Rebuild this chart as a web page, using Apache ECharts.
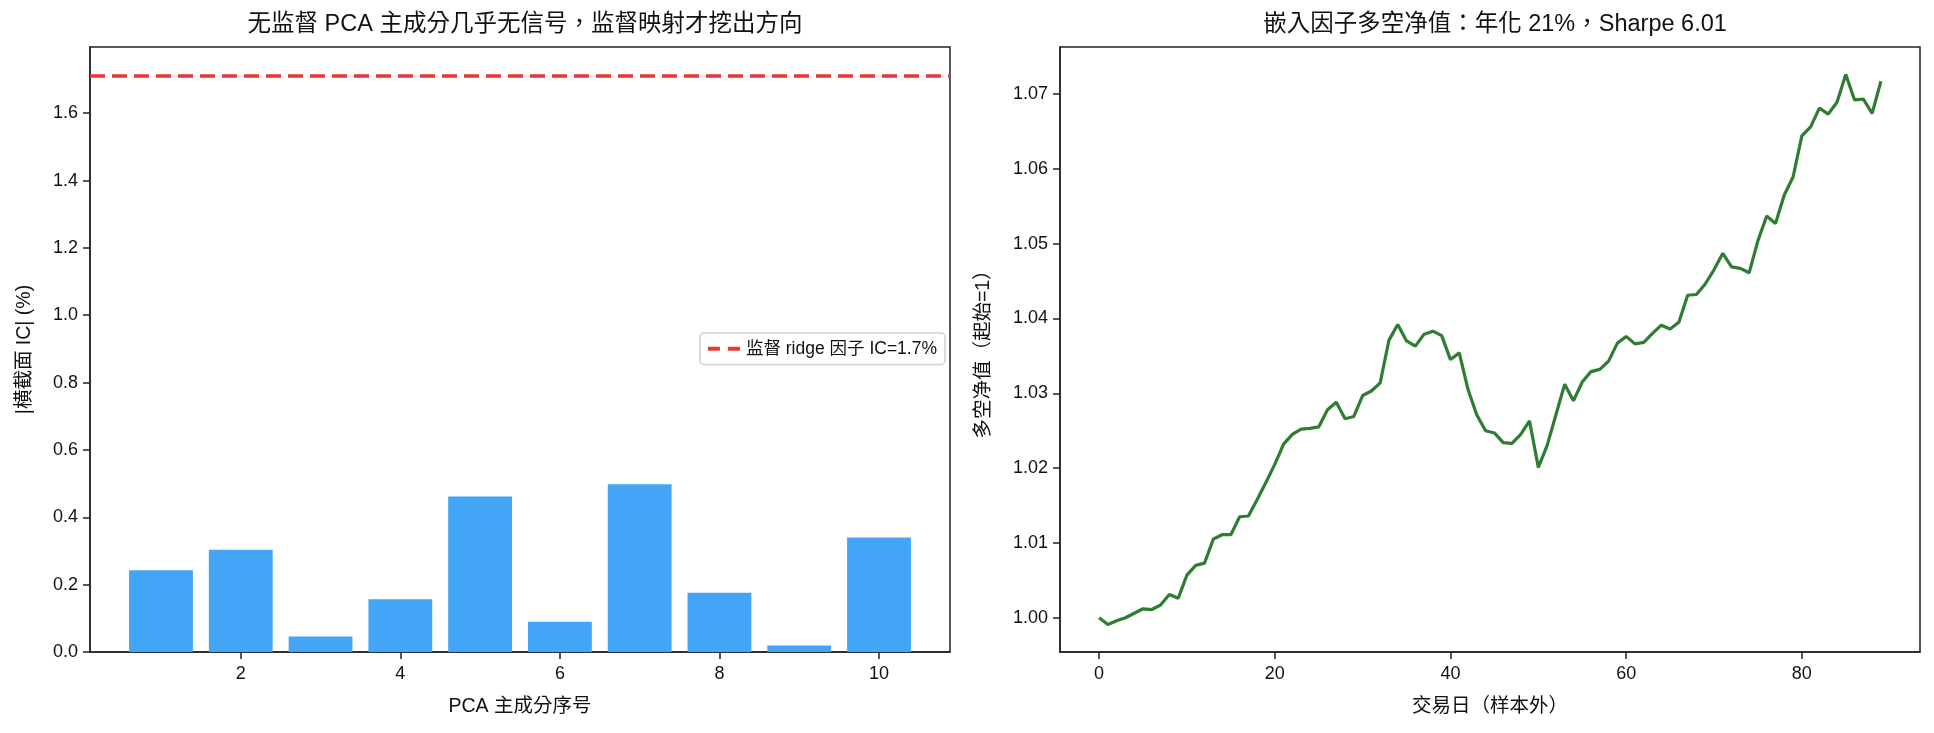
<!DOCTYPE html>
<html>
<head>
<meta charset="utf-8">
<script src="https://cdn.jsdelivr.net/npm/echarts@6/dist/echarts.min.js"></script>
<style>
  html, body { margin: 0; padding: 0; background: #fff; }
  #main { width: 1934px; height: 733px; }
</style>
</head>
<body>
<div id="main"></div>
<script>
// PCA 主成分序号
var components = [1, 2, 3, 4, 5, 6, 7, 8, 9, 10];
// 各主成分 |IC| (%)
var pcaIC = [0.243, 0.304, 0.046, 0.157, 0.462, 0.090, 0.498, 0.176, 0.019, 0.340];
// 监督 ridge 因子 IC
var ridgeIC = 1.711;
var pcaTicks = [2, 4, 6, 8, 10];
var icTicks = [0, 0.2, 0.4, 0.6, 0.8, 1.0, 1.2, 1.4, 1.6];

// 多空净值（样本外）
var netValue = [
  1.0000, 0.9991, 0.9996, 1.0000, 1.0006, 1.0012, 1.0011, 1.0017, 1.0031, 1.0026,
  1.0057, 1.0070, 1.0073, 1.0105, 1.0111, 1.0111, 1.0135, 1.0136, 1.0158, 1.0181,
  1.0205, 1.0232, 1.0245, 1.0252, 1.0253, 1.0255, 1.0278, 1.0288, 1.0266, 1.0269,
  1.0297, 1.0303, 1.0314, 1.0371, 1.0392, 1.0370, 1.0363, 1.0379, 1.0383, 1.0377,
  1.0345, 1.0354, 1.0305, 1.0271, 1.0250, 1.0247, 1.0234, 1.0233, 1.0245, 1.0263,
  1.0201, 1.0230, 1.0271, 1.0312, 1.0290, 1.0315, 1.0329, 1.0332, 1.0343, 1.0367,
  1.0376, 1.0366, 1.0368, 1.0380, 1.0391, 1.0386, 1.0395, 1.0431, 1.0432, 1.0446,
  1.0465, 1.0487, 1.0469, 1.0467, 1.0461, 1.0504, 1.0537, 1.0527, 1.0565, 1.0589,
  1.0644, 1.0656, 1.0681, 1.0673, 1.0689, 1.0726, 1.0692, 1.0693, 1.0674, 1.0717
];
var dayTicks = [0, 20, 40, 60, 80];
var navTicks = [1.00, 1.01, 1.02, 1.03, 1.04, 1.05, 1.06, 1.07];

var FONT = "'Liberation Sans', Arial, 'Noto Sans CJK TC', sans-serif";
var AXIS = "#222";
var TICK_FS = 18;
var NAME_FS = 19.5;

// 两个子图的位置
var leftGrid = { left: 90, right: 984, top: 47, bottom: 81 };
var rightGrid = { left: 1060, right: 14, top: 47, bottom: 81 };

// matplotlib 风格的 5% 边距
var xMinL = components[0] - 0.4, xMaxL = components[components.length - 1] + 0.4;
var padL = (xMaxL - xMinL) * 0.05;
xMinL -= padL; xMaxL += padL;
var barW = 0.8 * (1934 - leftGrid.left - leftGrid.right) / (xMaxL - xMinL);

var days = netValue.map(function (v, i) { return i; });
var navMin = Math.min.apply(null, netValue), navMax = Math.max.apply(null, netValue);
var padY = (navMax - navMin) * 0.05;
var padX = (days.length - 1) * 0.05;

function tickStyle(vals) {
  return { show: true, inside: false, length: 7, customValues: vals, lineStyle: { color: AXIS, width: 1.5 } };
}

function baseAxis(extra) {
  var o = {
    axisLine: { show: true, onZero: false, lineStyle: { color: AXIS, width: 1.5 } },
    splitLine: { show: false },
    nameTextStyle: { fontFamily: FONT, fontSize: NAME_FS, color: "#111" }
  };
  for (var k in extra) o[k] = extra[k];
  return o;
}

var chart = echarts.init(document.getElementById("main"), null, { renderer: "canvas" });

var legendName = "监督 ridge 因子 IC=1.7%";

var option = {
  animation: false,
  backgroundColor: "#fff",
  textStyle: { fontFamily: FONT },
  title: [
    {
      text: "无监督 PCA 主成分几乎无信号，监督映射才挖出方向",
      left: 520, top: 8, textAlign: "center",
      textStyle: { fontFamily: FONT, fontSize: 23.5, fontWeight: "normal", color: "#111" }
    },
    {
      text: "嵌入因子多空净值：年化 21%，Sharpe 6.01",
      left: 1490, top: 8, textAlign: "center",
      textStyle: { fontFamily: FONT, fontSize: 23.5, fontWeight: "normal", color: "#111" }
    }
  ],
  legend: {
    data: [{ name: legendName, icon: "path://M0,0h12v4h-12z M20,0h12v4h-12z" }],
    right: 989, top: 333,
    itemWidth: 34, itemHeight: 4, itemGap: 10,
    padding: [7, 8, 7, 8],
    borderColor: "#d0d0d0", borderWidth: 1.5, borderRadius: 4,
    backgroundColor: "#fff",
    textStyle: { fontFamily: FONT, fontSize: 17.5, color: "#111" }
  },
  grid: [
    { left: leftGrid.left, right: leftGrid.right, top: leftGrid.top, bottom: leftGrid.bottom,
      show: true, borderColor: AXIS, borderWidth: 1.5, backgroundColor: "transparent" },
    { left: rightGrid.left, right: rightGrid.right, top: rightGrid.top, bottom: rightGrid.bottom,
      show: true, borderColor: AXIS, borderWidth: 1.5, backgroundColor: "transparent" }
  ],
  xAxis: [
    baseAxis({
      type: "value", gridIndex: 0, min: xMinL, max: xMaxL,
      name: "PCA 主成分序号", nameLocation: "middle", nameGap: 45,
      axisTick: tickStyle(pcaTicks),
      axisLabel: { customValues: pcaTicks, margin: 13, fontFamily: FONT, fontSize: TICK_FS, color: "#111" }
    }),
    baseAxis({
      type: "value", gridIndex: 1, min: -padX, max: days.length - 1 + padX,
      name: "交易日（样本外）", nameLocation: "middle", nameGap: 45,
      axisTick: tickStyle(dayTicks),
      axisLabel: { customValues: dayTicks, margin: 13, fontFamily: FONT, fontSize: TICK_FS, color: "#111" }
    })
  ],
  yAxis: [
    baseAxis({
      type: "value", gridIndex: 0, min: 0, max: ridgeIC * 1.05,
      name: "|横截面 IC| (%)", nameLocation: "middle", nameGap: 56, nameRotate: 90,
      axisTick: tickStyle(icTicks),
      axisLabel: {
        customValues: icTicks, margin: 12, fontFamily: FONT, fontSize: TICK_FS, color: "#111",
        formatter: function (v) { return v.toFixed(1); }
      }
    }),
    baseAxis({
      type: "value", gridIndex: 1, min: navMin - padY, max: navMax + padY,
      name: "多空净值（起始=1）", nameLocation: "middle", nameGap: 67, nameRotate: 90,
      axisTick: tickStyle(navTicks),
      axisLabel: {
        customValues: navTicks, margin: 12, fontFamily: FONT, fontSize: TICK_FS, color: "#111",
        formatter: function (v) { return v.toFixed(2); }
      }
    })
  ],
  series: [
    {
      name: "PCA |IC|",
      type: "bar",
      xAxisIndex: 0, yAxisIndex: 0,
      barWidth: barW,
      itemStyle: { color: "#42a5f5" },
      data: components.map(function (c, i) { return [c, pcaIC[i]]; })
    },
    {
      // 监督 ridge 因子 IC 参考线
      name: legendName,
      type: "line",
      xAxisIndex: 0, yAxisIndex: 0,
      data: [],
      itemStyle: { color: "#e53935" },
      lineStyle: { color: "#e53935", type: [15, 7], width: 3.5 },
      markLine: {
        silent: true, symbol: "none", label: { show: false },
        lineStyle: { color: "#e53935", type: [15, 7], width: 3.5 },
        data: [{ yAxis: ridgeIC }]
      }
    },
    {
      name: "净值",
      type: "line",
      xAxisIndex: 1, yAxisIndex: 1,
      showSymbol: false,
      lineStyle: { color: "#2e7d32", width: 3.2 },
      itemStyle: { color: "#2e7d32" },
      data: days.map(function (d, i) { return [d, netValue[i]]; })
    }
  ]
};

chart.setOption(option);
</script>
</body>
</html>
